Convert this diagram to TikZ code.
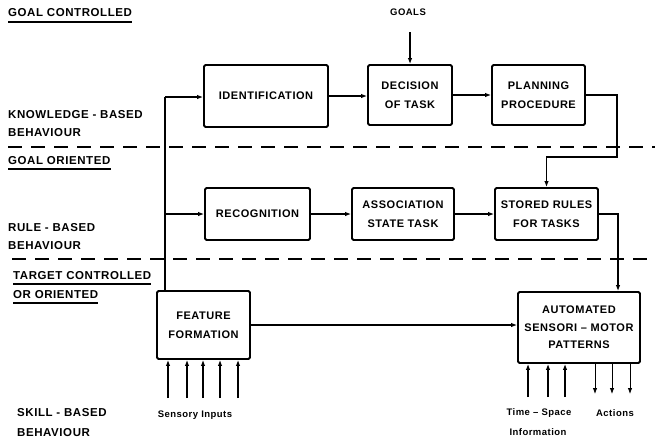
\documentclass[tikz,border=0pt]{standalone}
\usepackage{fontspec}
\setmainfont{Liberation Sans}[LetterSpace=5]
\usetikzlibrary{arrows.meta}
\begin{document}
\begin{tikzpicture}[x=1pt,y=-1pt,
 box/.style={draw, line width=1.8pt, rounded corners=1.5pt, align=center, inner sep=0pt,
   font=\fontsize{11}{19}\selectfont\bfseries},
 lbl/.style={anchor=west, inner sep=0pt, font=\fontsize{11.5}{13}\selectfont\bfseries},
 small/.style={inner sep=0pt, font=\fontsize{9.5}{11}\selectfont\bfseries},
 conn/.style={line width=1.6pt},
 arr/.style={line width=1.6pt, -{Latex[length=6pt,width=4.5pt]}},
 arrthin/.style={line width=0.8pt, -{Latex[length=6pt,width=4.5pt]}},
 sep/.style={line width=2.2pt, dash pattern=on 14pt off 9pt},
 uline/.style={line width=1.8pt}]
\fill[white] (0,0) rectangle (655,447);
\useasboundingbox (0,0) rectangle (655,447);

% left labels
\node[lbl] (gc) at (8,13) {GOAL CONTROLLED};
\draw[uline] ([yshift=-5pt]gc.south west) -- ([yshift=-5pt]gc.south east);
\node[lbl] (kb1) at (8,115) {KNOWLEDGE - BASED};
\node[lbl] (kb2) at (8,133) {BEHAVIOUR};
\node[lbl] (go) at (8,161) {GOAL ORIENTED};
\draw[uline] ([yshift=-4pt]go.south west) -- ([yshift=-4pt]go.south east);
\node[lbl] (rb1) at (8,228) {RULE - BASED};
\node[lbl] (rb2) at (8,246) {BEHAVIOUR};
\node[lbl] (tc1) at (13,276) {TARGET CONTROLLED};
\draw[uline] ([yshift=-4pt]tc1.south west) -- ([yshift=-4pt]tc1.south east);
\node[lbl] (tc2) at (13,295) {OR ORIENTED};
\draw[uline] ([yshift=-4pt]tc2.south west) -- ([yshift=-4pt]tc2.south east);
\node[lbl] (sb1) at (17,413) {SKILL - BASED};
\node[lbl] (sb2) at (17,433) {BEHAVIOUR};

% separators
\coordinate (d1a) at (8,147);
\coordinate (d1b) at (655,147);
\coordinate (d2a) at (12,259);
\coordinate (d2b) at (655,259);
\draw[sep] (d1a) -- (d1b);
\draw[sep] (d2a) -- (d2b);

% boxes
\node[box, minimum width=124pt, minimum height=62pt] (ident) at (266,96) {IDENTIFICATION};
\node[box, minimum width=84pt, minimum height=60pt] (dec) at (410,95) {DECISION\\OF TASK};
\node[box, minimum width=93pt, minimum height=60pt] (plan) at (538.5,95) {PLANNING\\PROCEDURE};
\node[box, minimum width=105pt, minimum height=52pt] (recog) at (257.5,214) {RECOGNITION};
\node[box, minimum width=102pt, minimum height=52pt] (assoc) at (403,214) {ASSOCIATION\\STATE TASK};
\node[box, minimum width=103pt, minimum height=52pt] (stored) at (546.5,214) {STORED RULES\\FOR TASKS};
\node[box, minimum width=93pt, minimum height=68pt] (feat) at (203.5,325) {FEATURE\\FORMATION};
\node[box, minimum width=122pt, minimum height=71pt, font=\fontsize{11}{17.5}\selectfont\bfseries] (auto) at (579,327.5) {AUTOMATED\\SENSORI -- MOTOR\\PATTERNS};

% goals
\node[small] (goals) at (408,12) {GOALS};
\coordinate (g) at (410,32);
\draw[arr] (g) -- (dec.north);

% connectors
\coordinate (vt) at (165,97);
\coordinate (vm) at (165,214);
\draw[conn] (vt |- feat.north) -- (vt);
\draw[arr] (vt) -- (ident.west |- vt);
\draw[arr] (vm) -- (recog.west |- vm);
\draw[arr] (ident.east) -- (dec.west |- ident.east);
\draw[arr] (dec.east) -- (plan.west);
\coordinate (p1) at (617,157);
\draw[arr] (plan.east) -| (p1) -| (stored.north);
\draw[arr] (recog.east) -- (assoc.west);
\draw[arr] (assoc.east) -- (stored.west);
\coordinate (a1) at (618,250);
\draw[arr] (stored.east) -| (auto.north -| a1);
\draw[arr] (feat.east) -- (auto.west |- feat.east);

% sensory inputs
\foreach \x [count=\i] in {168,187,203,220,238} {
  \coordinate (s\i) at (\x,398);
  \draw[arr] (s\i) -- (s\i |- feat.south);
}
\node[small] (sens) at (195,415) {Sensory Inputs};

% time-space information
\foreach \x [count=\i] in {528,548,565} {
  \coordinate (t\i) at (\x,397);
  \draw[arr] (t\i) -- (t\i |- auto.south);
}
\node[small] (ts1) at (539,413) {Time -- Space};
\node[small] (ts2) at (538,432) {Information};

% actions
\foreach \x [count=\i] in {595,612,630} {
  \coordinate (c\i) at (\x,394);
  \draw[arrthin] (c\i |- auto.south) -- (c\i);
}
\node[small] (act) at (615,413) {Actions};
\end{tikzpicture}
\end{document}
